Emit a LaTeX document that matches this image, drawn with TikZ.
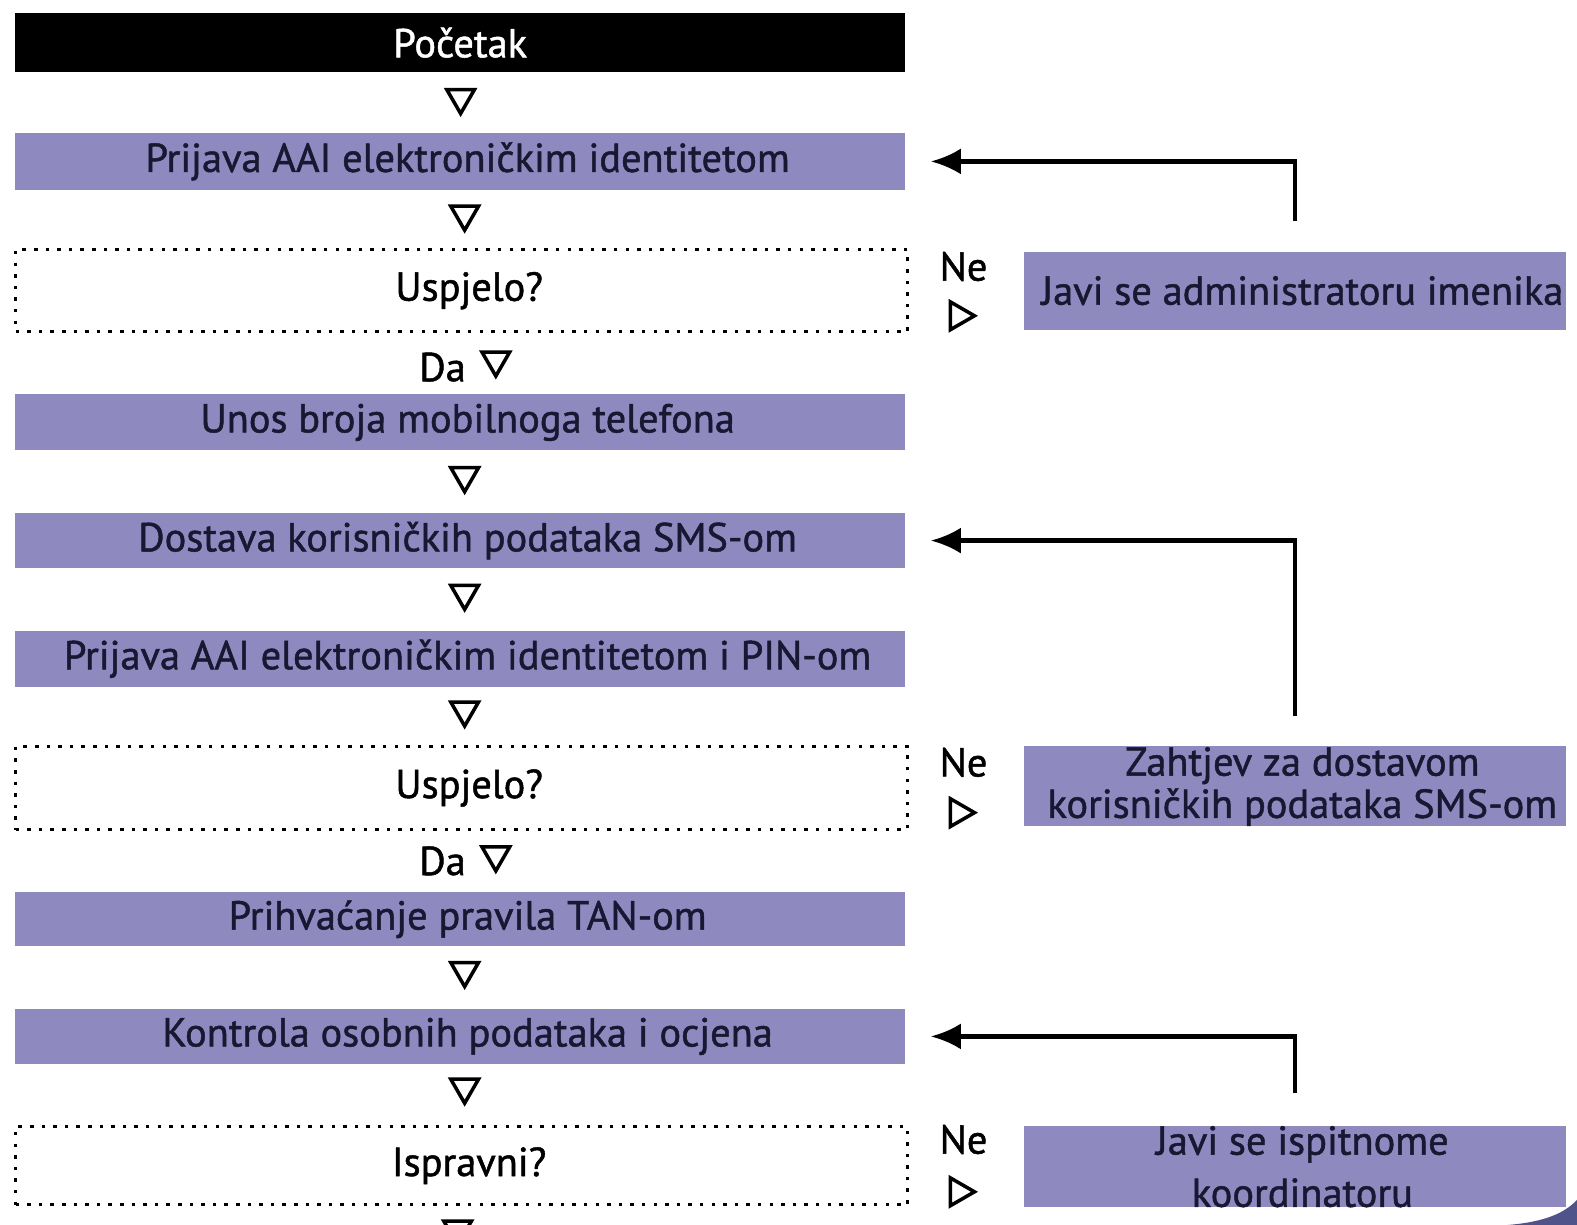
\documentclass[tikz,border=0pt]{standalone}
\usepackage{fontspec}
\setmainfont{PT Sans}[FakeBold=1.2]
\usepackage{tikz}
\usetikzlibrary{arrows.meta}
\usetikzlibrary{shapes.geometric}
\usetikzlibrary{positioning}

\definecolor{boxviolet}{RGB}{142,138,192}
\definecolor{boxtext}{RGB}{24,24,50}
\definecolor{cornerblue}{RGB}{80,82,138}

\tikzset{
  stepbox/.style={rectangle, fill=boxviolet, text=boxtext, minimum width=8.90cm, minimum height=0.57cm, inner sep=0pt, execute at begin node=\hspace*{0.15cm}},
  startbox/.style={rectangle, fill=black, text=white, minimum width=8.90cm, minimum height=0.59cm, inner sep=0pt},
  askbox/.style={rectangle, draw=black, line width=1pt, dash pattern=on 1pt off 2.3pt, minimum width=8.92cm, minimum height=0.8cm, inner sep=0pt, execute at begin node=\hspace*{0.15cm}},
  sidebox/.style={rectangle, fill=boxviolet, text=boxtext, minimum width=5.42cm, minimum height=0.8cm, inner sep=0pt, align=center},
  downtri/.style={regular polygon, regular polygon sides=3, shape border rotate=180, draw=black, line width=1pt, minimum size=0.32cm, inner sep=0pt},
  righttri/.style={regular polygon, regular polygon sides=3, shape border rotate=-90, draw=black, line width=1pt, minimum size=0.32cm, inner sep=0pt},
  backline/.style={-{Latex[length=3mm,width=2.6mm]}, line width=1.25pt},
}
\newcommand{\sidepad}{\hspace*{0.15cm}}

\begin{document}
\begin{tikzpicture}[x=1.0057cm, y=1.0057cm, font=\fontsize{11.5}{12}\selectfont]
\useasboundingbox (0,0) rectangle (15.68,-12.18);
% left column
\node [startbox] (start) at (4.575, -0.425) {Početak};
\node [downtri] (t0) at (4.58, -0.97) {};
\node [stepbox] (login) at (4.575, -1.605) {Prijava AAI elektroničkim identitetom};
\node [downtri] (t1) at (4.62, -2.13) {};
\node [askbox, minimum height=0.82cm] (ask1) at (4.59, -2.89) {Uspjelo?};
\node (da1) at (4.40, -3.65) {Da};
\node [downtri] (t1b) at (4.93, -3.58) {};
\node [stepbox, minimum height=0.56cm] (phone) at (4.575, -4.20) {Unos broja mobilnoga telefona};
\node [downtri] (t2) at (4.62, -4.73) {};
\node [stepbox, minimum height=0.55cm] (sms) at (4.575, -5.375) {Dostava korisničkih podataka SMS-om};
\node [downtri] (t3) at (4.62, -5.90) {};
\node [stepbox, minimum height=0.56cm] (pin) at (4.575, -6.55) {Prijava AAI elektroničkim identitetom i PIN-om};
\node [downtri] (t4) at (4.62, -7.06) {};
\node [askbox, minimum height=0.83cm] (ask2) at (4.59, -7.835) {Uspjelo?};
\node (da2) at (4.40, -8.56) {Da};
\node [downtri] (t4b) at (4.93, -8.50) {};
\node [stepbox, minimum height=0.54cm] (tan) at (4.575, -9.14) {Prihvaćanje pravila TAN-om};
\node [downtri] (t5) at (4.62, -9.65) {};
\node [stepbox, minimum height=0.55cm] (check) at (4.575, -10.305) {Kontrola osobnih podataka i ocjena};
\node [downtri] (t6) at (4.62, -10.81) {};
\node [askbox, minimum height=0.78cm] (ask3) at (4.59, -11.59) {Ispravni?};
\node [downtri] (t7) at (4.55, -12.22) {};
% right column
\node (ne1) at (9.58, -2.65) {Ne};
\node [righttri] (r1) at (9.53, -3.14) {};
\node [sidebox, minimum height=0.78cm] (admin) at (12.875, -2.89) {\sidepad Javi se administratoru imenika};
\node (ne2) at (9.58, -7.58) {Ne};
\node [righttri] (r2) at (9.53, -8.08) {};
\node [sidebox] (zahtjev) at (12.875, -7.82) {\sidepad Zahtjev za dostavom\\\sidepad korisničkih podataka SMS-om};
\node (ne3) at (9.58, -11.33) {Ne};
\node [righttri] (r3) at (9.53, -11.85) {};
\node [sidebox] (koord) at (12.875, -11.60) {\sidepad Javi se ispitnome\\[0.1cm]\sidepad koordinatoru};
% return arrows
\draw [backline] ([yshift=0.3cm]admin.north) |- ([xshift=0.25cm]login.east);
\draw [backline] ([yshift=0.3cm]zahtjev.north) |- ([xshift=0.25cm]sms.east);
\draw [backline] ([yshift=0.32cm]koord.north) |- ([xshift=0.25cm]check.east);
% corner of the page
\fill [cornerblue] (15.68,-11.93) .. controls (15.56,-12.06) and (15.36,-12.15) .. (14.99,-12.18) -- (15.68,-12.18) -- cycle;
\end{tikzpicture}
\end{document}
